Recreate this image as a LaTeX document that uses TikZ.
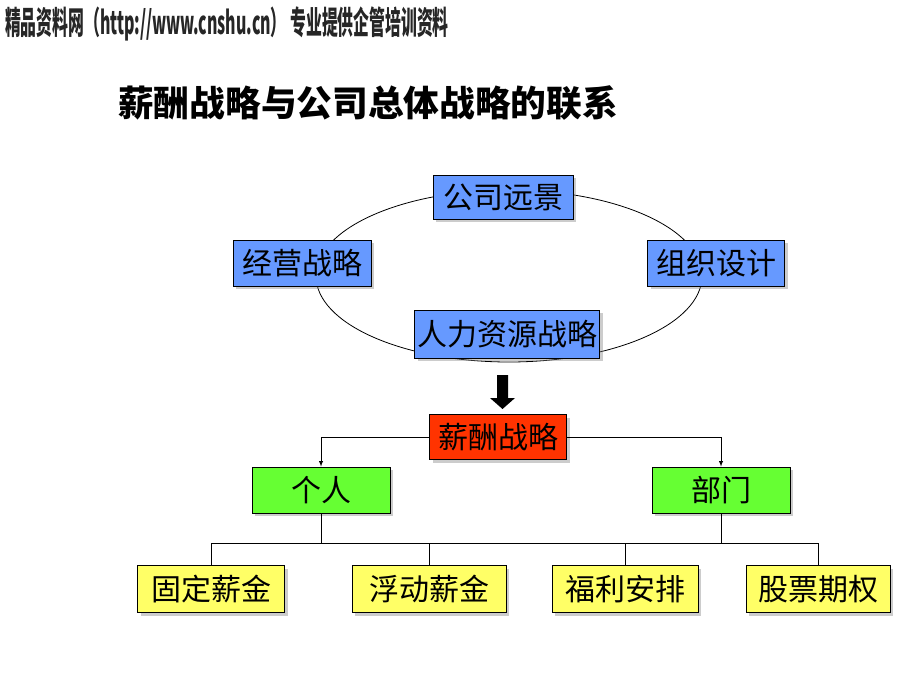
\documentclass[tikz,border=0pt]{standalone}
\usepackage{fontspec}
\usepackage{tikz}
\usetikzlibrary{shadows}
\newfontfamily\cjk{Noto Sans CJK SC}
\definecolor{boxblue}{RGB}{102,153,255}
\definecolor{boxred}{RGB}{255,51,0}
\definecolor{boxgreen}{RGB}{102,255,51}
\definecolor{boxyellow}{RGB}{255,255,102}

\begin{document}
\begin{tikzpicture}[x=1pt,y=-1pt,>=latex,
	box/.style={draw,line width=0.8pt,inner sep=0pt,minimum height=46pt,font=\cjk\fontsize{30}{33}\selectfont,drop shadow={shadow xshift=3pt,shadow yshift=-3pt,opacity=0.4}},
	link/.style={draw,line width=0.9pt},
	hdr/.style={anchor=west,inner sep=0pt,xscale=0.495,font=\cjk\bfseries\fontsize{32}{36}\selectfont}]
	\useasboundingbox[fill=white] (0,0) rectangle (920,690);
	\node[hdr,text=black!85] (header) at (5,24) {精品资料网（http://www.cnshu.cn） 专业提供企管培训资料};
	\node[anchor=west,inner sep=0pt,font=\cjk\bfseries\fontsize{35.7}{40}\selectfont] (title) at (118,103) {薪酬战略与公司总体战略的联系};

	\draw[line width=0.8pt] (509,276) ellipse [x radius=193, y radius=86];
	\node[box,fill=boxblue,minimum width=140pt,minimum height=44pt] (vision) at (503,197) {公司远景};
	\node[box,fill=boxblue,minimum width=138pt] (business) at (302,263) {经营战略};
	\node[box,fill=boxblue,minimum width=137pt] (org) at (716,263) {组织设计};
	\node[box,fill=boxblue,minimum width=185pt,minimum height=48pt] (hr) at (507,334) {人力资源战略};

	\fill (497,375) -- (508,375) -- (508,398) -- (515,398) -- (502.5,409) -- (490,398) -- (497,398) -- cycle;

	\node[box,fill=boxred,minimum width=137pt,minimum height=45pt] (pay) at (498,437) {薪酬战略};
	\node[box,fill=boxgreen,minimum width=138pt] (indiv) at (321,490) {个人};
	\node[box,fill=boxgreen,minimum width=138pt] (dept) at (721,490) {部门};

	\node[box,fill=boxyellow,minimum width=147pt,minimum height=47pt] (fixed) at (211,589) {固定薪金};
	\node[box,fill=boxyellow,minimum width=154pt,minimum height=47pt] (float) at (429,589) {浮动薪金};
	\node[box,fill=boxyellow,minimum width=146pt,minimum height=47pt] (welfare) at (625,589) {福利安排};
	\node[box,fill=boxyellow,minimum width=144pt,minimum height=47pt] (stock) at (818,589) {股票期权};

	\draw[link,->] (pay.west) -| (indiv.north);
	\draw[link,->] (pay.east) -| (dept.north);
	\coordinate (bus) at (0,543);
	\draw[link] (indiv.south) -- (indiv.south |- bus);
	\draw[link] (dept.south) -- (dept.south |- bus);
	\draw[link] (fixed.north) |- (bus -| stock.north) -- (stock.north);
	\draw[link] (float.north) -- (float.north |- bus);
	\draw[link] (welfare.north) -- (welfare.north |- bus);
\end{tikzpicture}
\end{document}
